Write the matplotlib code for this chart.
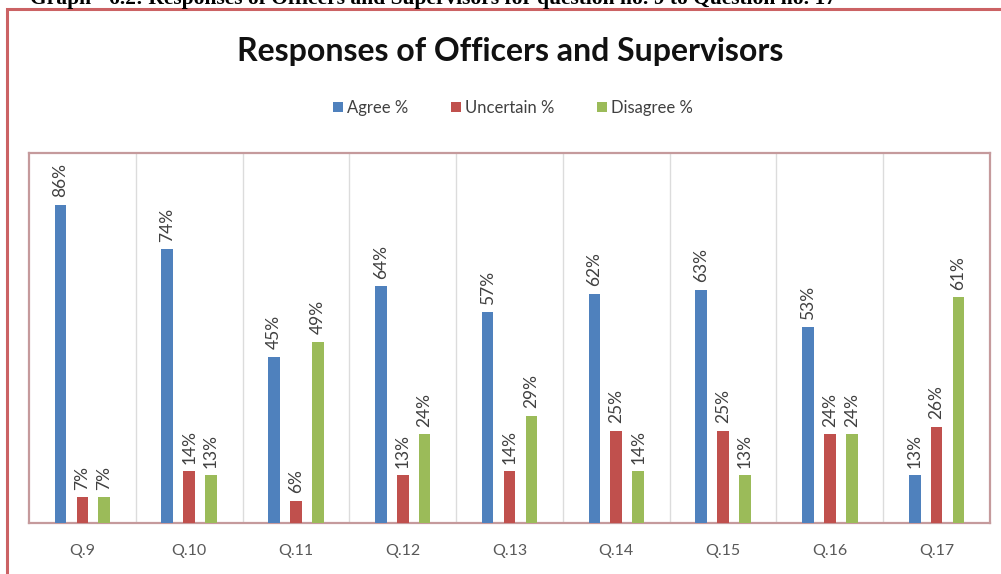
import matplotlib
matplotlib.use("Agg")
import matplotlib.pyplot as plt
import numpy as np
from matplotlib.patches import Rectangle

# data
questions  = ["Q.9", "Q.10", "Q.11", "Q.12", "Q.13", "Q.14", "Q.15", "Q.16", "Q.17"]
agree      = [86, 74, 45, 64, 57, 62, 63, 53, 13]
uncertain  = [7, 14, 6, 13, 14, 25, 25, 24, 26]
disagree   = [7, 13, 49, 24, 29, 14, 13, 24, 61]

series = [
  ("Agree %", agree, "#4F81BD"),
  ("Uncertain %", uncertain, "#C0504D"),
  ("Disagree %", disagree, "#9BBB59"),
]

plt.rcParams['font.family'] = ['Lato', 'DejaVu Sans']

W, H = 1001, 574
fig = plt.figure(figsize=(W / 100, H / 100), dpi=100)
fig.patch.set_facecolor("white")

# caption above the chart frame (cut off at the page top)
fig.text(30 / W, 1 - 4 / H, "Graph - 6.2: Responses of Officers and Supervisors for question no. 9 to Question no. 17",
  family="Liberation Serif", fontweight="bold", fontsize=15.5, ha="left", va="baseline", color="black")

# chart frame
fig.patches.append(Rectangle((7 / W, -0.05), 1.1, 1 - 9 / H + 0.05,
  transform=fig.transFigure, fill=False, edgecolor="#CB6264", linewidth=2.2))

fig.text(510 / W, 1 - 52 / H, "Responses of Officers and Supervisors",
  fontsize=23, fontweight="bold", ha="center", va="center", color="#111111",
  family=["Liberation Sans Narrow", "Lato"])

# plot area
ax = fig.add_axes([29 / W, (H - 523) / H, (990 - 29) / W, (523 - 153) / H])
x = np.arange(len(questions))
offsets = [-0.205, 0.0, 0.205]
width = 0.11

handles = []
for (name, vals, color), off in zip(series, offsets):
  b = ax.bar(x + off, vals, width, color=color, label=name, zorder=3)
  handles.append(b)
  for xi, v in zip(x + off, vals):
    ax.text(xi, v + 2.0, f"{v}%", rotation=90, ha="center", va="bottom",
      fontsize=12.5, color="#404040", zorder=4)

ax.set_xlim(-0.5, len(questions) - 0.5)
ax.set_ylim(0, 100)
ax.set_yticks([])
ax.set_xticks(x)
ax.set_xticklabels(questions, fontsize=11.5, color="#595959")
ax.tick_params(axis="x", length=0, pad=15)

for xb in x[:-1] + 0.5:
  ax.axvline(xb, color="#DCDCDC", linewidth=1, zorder=1)

for s in ax.spines.values():
  s.set_color("#C59A9C")
  s.set_linewidth(1.6)

fig.legend(handles=handles, labels=[s[0] for s in series], loc="center",
  bbox_to_anchor=(513 / W, 1 - 108 / H), ncol=3, frameon=False,
  fontsize=12, handlelength=0.6, handleheight=0.6, handletextpad=0.2,
  columnspacing=2.6, labelcolor="#404040")

fig.savefig("out.png", dpi=100)
